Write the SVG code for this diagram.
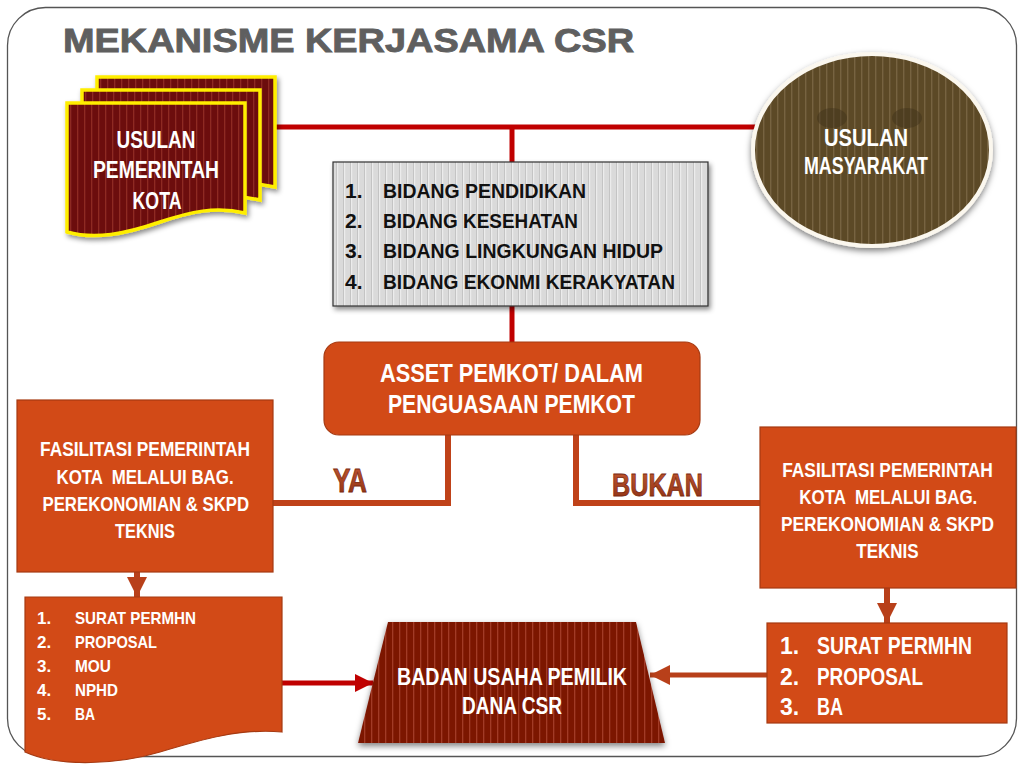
<svg xmlns="http://www.w3.org/2000/svg" width="1024" height="768" viewBox="0 0 1024 768">
<defs>
<style>
.t{font-family:"Liberation Sans",Arial,sans-serif;font-weight:bold;fill:#fff}
.k{fill:#111}
.c{text-anchor:middle}
.conR{fill:none;stroke:#c00000;stroke-width:5}
.conO{fill:none;stroke:#bf4219;stroke-width:6}
.org{fill:#d24a17;stroke:#a63a12;stroke-width:1.2}
.lbl{font-family:"Liberation Sans",Arial,sans-serif;font-weight:900;fill:url(#lblg);stroke:#7a2a10;stroke-width:0.8}
</style>
<pattern id="pMar" width="7" height="10" patternUnits="userSpaceOnUse"><rect width="7" height="10" fill="#6c0a0a"/><rect width="1.3" height="10" fill="#8e2b22"/></pattern>
<pattern id="pBad" width="7" height="10" patternUnits="userSpaceOnUse"><rect width="7" height="10" fill="#7c1406"/><rect width="1.3" height="10" fill="#a23a26"/></pattern>
<pattern id="pBrn" width="7" height="10" patternUnits="userSpaceOnUse"><rect width="7" height="10" fill="#5b4826"/><rect width="1.4" height="10" fill="#77643f"/></pattern>
<pattern id="pGry" width="7" height="10" patternUnits="userSpaceOnUse"><rect width="7" height="10" fill="#dadada"/><rect width="1.2" height="10" fill="#c4c4c4"/><rect x="1.2" width="1" height="10" fill="#f2f2f2"/></pattern>
<linearGradient id="lblg" x1="0" y1="0" x2="0" y2="1"><stop offset="0" stop-color="#c65a32"/><stop offset="1" stop-color="#8a2e12"/></linearGradient>
<filter id="sh" x="-10%" y="-10%" width="130%" height="130%"><feDropShadow dx="2" dy="3" stdDeviation="2.5" flood-color="#000" flood-opacity="0.45"/></filter>
<filter id="sh2" x="-10%" y="-10%" width="130%" height="130%"><feDropShadow dx="0" dy="3" stdDeviation="3" flood-color="#000" flood-opacity="0.5"/></filter>
<marker id="aR" viewBox="0 0 18 18" markerWidth="18" markerHeight="18" markerUnits="userSpaceOnUse" refX="18" refY="9" orient="auto"><path d="M0,0 L18,9 L0,18 Z" fill="#c00000"/></marker>
<marker id="aO" viewBox="0 0 18 18" markerWidth="20" markerHeight="20" markerUnits="userSpaceOnUse" refX="18" refY="9" orient="auto"><path d="M0,0 L18,9 L0,18 Z" fill="#b8401a"/></marker>
</defs>

<rect x="0" y="0" width="1024" height="768" fill="#fff"/>
<rect id="frame" x="7.5" y="7.5" width="1009" height="749" rx="38" ry="38" fill="none" stroke="#555" stroke-width="1.3"/>

<text id="title" x="63" y="52" font-family="'Liberation Sans',Arial,sans-serif" font-weight="bold" font-size="34" fill="#5f5f5f" stroke="#5f5f5f" stroke-width="0.9" textLength="571" lengthAdjust="spacingAndGlyphs">MEKANISME KERJASAMA CSR</text>

<g id="connectors">
<path class="conR" d="M275,127 H760"/>
<path class="conR" d="M512,127 V163"/>
<path class="conR" d="M512,306 V342"/>
<path class="conO" d="M448,435 V503 H273"/>
<path class="conO" d="M576,435 V503 H760"/>
<path fill="none" stroke="#b8401a" stroke-width="6" d="M137,572 V597" marker-end="url(#aO)"/>
<path fill="none" stroke="#b8401a" stroke-width="6" d="M887,588 V623" marker-end="url(#aO)"/>
<path class="conR" d="M282,683 H373" marker-end="url(#aR)"/>
<path fill="none" stroke="#b8401a" stroke-width="5" d="M768,675 H650" marker-end="url(#aO)"/>
</g>

<g id="usulan-pemerintah">
<g fill="url(#pMar)" stroke="#ffee00" stroke-width="3.5" filter="url(#sh)">
<path transform="translate(30,-26)" d="M67,103 H245 V213 C215,206 190,212 160,222 C125,234 95,240 67,232 Z"/>
<path transform="translate(15,-13)" d="M67,103 H245 V213 C215,206 190,212 160,222 C125,234 95,240 67,232 Z"/>
<path d="M67,103 H245 V213 C215,206 190,212 160,222 C125,234 95,240 67,232 Z"/>
</g>
<text class="t c" x="156" y="148" font-size="23" textLength="79" lengthAdjust="spacingAndGlyphs">USULAN</text>
<text class="t c" x="156" y="178" font-size="23" textLength="126" lengthAdjust="spacingAndGlyphs">PEMERINTAH</text>
<text class="t c" x="157" y="209" font-size="23" textLength="49" lengthAdjust="spacingAndGlyphs">KOTA</text>
</g>

<g id="usulan-masyarakat">
<ellipse cx="872" cy="150" rx="119" ry="96" fill="url(#pBrn)" stroke="#fbf7ee" stroke-width="4" filter="url(#sh2)"/>
<ellipse cx="832" cy="118" rx="15" ry="10" fill="#3f301a" opacity="0.45"/>
<ellipse cx="907" cy="118" rx="15" ry="10" fill="#3f301a" opacity="0.45"/>
<text class="t c" x="866" y="146" font-size="24" textLength="84" lengthAdjust="spacingAndGlyphs">USULAN</text>
<text class="t c" x="866" y="174" font-size="24" textLength="124" lengthAdjust="spacingAndGlyphs">MASYARAKAT</text>
</g>

<g id="bidang">
<rect x="333" y="162" width="375" height="144" fill="url(#pGry)" stroke="#333" stroke-width="1.2" filter="url(#sh)"/>
<g class="t k" font-size="21">
<text x="345" y="198">1.</text><text x="383" y="198" textLength="203" lengthAdjust="spacingAndGlyphs">BIDANG PENDIDIKAN</text>
<text x="345" y="228">2.</text><text x="383" y="228" textLength="195" lengthAdjust="spacingAndGlyphs">BIDANG KESEHATAN</text>
<text x="345" y="258">3.</text><text x="383" y="258" textLength="280" lengthAdjust="spacingAndGlyphs">BIDANG LINGKUNGAN HIDUP</text>
<text x="345" y="289">4.</text><text x="383" y="289" textLength="292" lengthAdjust="spacingAndGlyphs">BIDANG EKONMI KERAKYATAN</text>
</g>
</g>

<g id="asset">
<rect class="org" x="324" y="342" width="376" height="93" rx="15" ry="15"/>
<text class="t c" x="511.5" y="382" font-size="25" textLength="263" lengthAdjust="spacingAndGlyphs">ASSET PEMKOT/ DALAM</text>
<text class="t c" x="511.5" y="413" font-size="25" textLength="247" lengthAdjust="spacingAndGlyphs">PENGUASAAN PEMKOT</text>
</g>

<g id="label-ya">
<text class="lbl" x="333" y="492" font-size="33" textLength="34" lengthAdjust="spacingAndGlyphs">YA</text>
</g>
<g id="label-bukan">
<text class="lbl" x="612" y="496" font-size="32" textLength="91" lengthAdjust="spacingAndGlyphs">BUKAN</text>
</g>

<g id="fasilitasi-kiri">
<rect class="org" x="17" y="400" width="256" height="172"/>
<g transform="translate(145 0) scale(0.82 1)">
<text class="t c" x="0" y="456" font-size="21" textLength="256" lengthAdjust="spacingAndGlyphs">FASILITASI PEMERINTAH</text>
<text class="t c" x="0" y="484" font-size="21" textLength="216" lengthAdjust="spacingAndGlyphs" xml:space="preserve">KOTA  MELALUI BAG.</text>
<text class="t c" x="1" y="511" font-size="21" textLength="252" lengthAdjust="spacingAndGlyphs">PEREKONOMIAN &amp; SKPD</text>
<text class="t c" x="0" y="538" font-size="21" textLength="73" lengthAdjust="spacingAndGlyphs">TEKNIS</text>
</g>
</g>

<g id="fasilitasi-kanan">
<rect class="org" x="760" y="427" width="256" height="161"/>
<g transform="translate(887.5 0) scale(0.82 1)">
<text class="t c" x="0" y="477" font-size="21" textLength="257" lengthAdjust="spacingAndGlyphs">FASILITASI PEMERINTAH</text>
<text class="t c" x="1" y="504" font-size="21" textLength="217" lengthAdjust="spacingAndGlyphs" xml:space="preserve">KOTA  MELALUI BAG.</text>
<text class="t c" x="0" y="531" font-size="21" textLength="260" lengthAdjust="spacingAndGlyphs">PEREKONOMIAN &amp; SKPD</text>
<text class="t c" x="0" y="558" font-size="21" textLength="76" lengthAdjust="spacingAndGlyphs">TEKNIS</text>
</g>
</g>

<g id="dokumen-ya">
<path class="org" d="M25,597 H282 V732 C240,728 200,740 160,752 C120,764 60,768 25,752 Z"/>
<g class="t" font-size="17">
<text x="37" y="624">1.</text><text x="75" y="624" textLength="121" lengthAdjust="spacingAndGlyphs">SURAT PERMHN</text>
<text x="37" y="648">2.</text><text x="75" y="648" textLength="82" lengthAdjust="spacingAndGlyphs">PROPOSAL</text>
<text x="37" y="672">3.</text><text x="75" y="672" textLength="36" lengthAdjust="spacingAndGlyphs">MOU</text>
<text x="37" y="696">4.</text><text x="75" y="696" textLength="43" lengthAdjust="spacingAndGlyphs">NPHD</text>
<text x="37" y="720">5.</text><text x="75" y="720" textLength="20" lengthAdjust="spacingAndGlyphs">BA</text>
</g>
</g>

<g id="badan-usaha">
<path d="M388,622 H636 L665,743 H358 Z" fill="url(#pBad)" filter="url(#sh2)"/>
<text class="t c" x="512" y="685" font-size="24" textLength="230" lengthAdjust="spacingAndGlyphs">BADAN USAHA PEMILIK</text>
<text class="t c" x="512" y="714" font-size="24" textLength="100" lengthAdjust="spacingAndGlyphs">DANA CSR</text>
</g>

<g id="dokumen-bukan">
<rect class="org" x="767" y="623" width="240" height="100"/>
<g class="t" font-size="23">
<text x="780" y="654">1.</text><text x="817" y="654" textLength="155" lengthAdjust="spacingAndGlyphs">SURAT PERMHN</text>
<text x="780" y="685">2.</text><text x="817" y="685" textLength="106" lengthAdjust="spacingAndGlyphs">PROPOSAL</text>
<text x="780" y="715">3.</text><text x="817" y="715" textLength="26" lengthAdjust="spacingAndGlyphs">BA</text>
</g>
</g>
</svg>
